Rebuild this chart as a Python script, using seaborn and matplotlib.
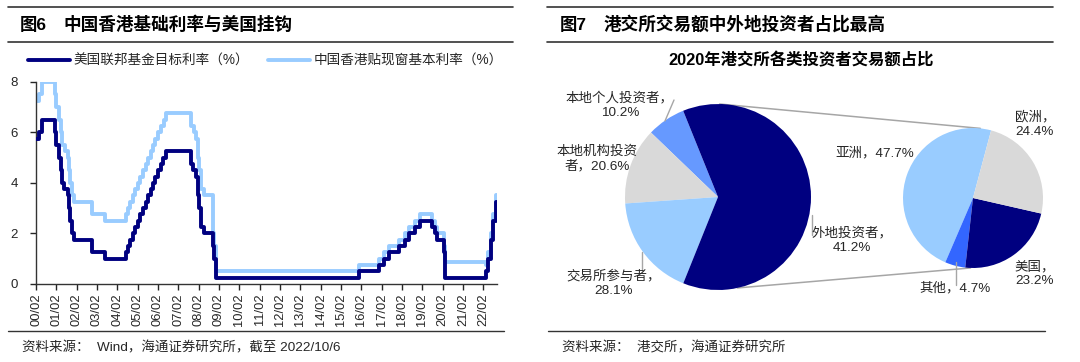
import pandas as pd
import matplotlib
matplotlib.use("Agg")
import matplotlib.pyplot as plt
import matplotlib.dates as mdates
from matplotlib.lines import Line2D
from matplotlib.patches import ConnectionPatch
import numpy as np
import seaborn as sns

# ---------------- DATA ----------------
# change points of the two policy rates (step series)
us_dates = ["2000-02-02", "2000-03-21", "2000-05-16", "2001-01-03", "2001-01-31", "2001-03-20",
            "2001-04-18", "2001-05-15", "2001-06-27", "2001-08-21", "2001-09-17", "2001-10-02",
            "2001-11-06", "2001-12-11", "2002-11-06", "2003-06-25", "2004-06-30", "2004-08-10",
            "2004-09-21", "2004-11-10", "2004-12-14", "2005-02-02", "2005-03-22", "2005-05-03",
            "2005-06-30", "2005-08-09", "2005-09-20", "2005-11-01", "2005-12-13", "2006-01-31",
            "2006-03-28", "2006-05-10", "2006-06-29", "2007-09-18", "2007-10-31", "2007-12-11",
            "2008-01-22", "2008-01-30", "2008-03-18", "2008-04-30", "2008-10-08", "2008-10-29",
            "2008-12-16", "2015-12-16", "2016-12-14", "2017-03-15", "2017-06-14", "2017-12-13",
            "2018-03-21", "2018-06-13", "2018-09-26", "2018-12-19", "2019-07-31", "2019-09-18",
            "2019-10-30", "2020-03-03", "2020-03-15", "2022-03-16", "2022-05-04", "2022-06-15",
            "2022-07-27", "2022-09-21", "2022-10-06"]
us_rates = [5.75, 6.0, 6.5, 6.0, 5.5, 5.0,
            4.5, 4.0, 3.75, 3.5, 3.0, 2.5,
            2.0, 1.75, 1.25, 1.0, 1.25, 1.5,
            1.75, 2.0, 2.25, 2.5, 2.75, 3.0,
            3.25, 3.5, 3.75, 4.0, 4.25, 4.5,
            4.75, 5.0, 5.25, 4.75, 4.5, 4.25,
            3.5, 3.0, 2.25, 2.0, 1.5, 1.0,
            0.25, 0.5, 0.75, 1.0, 1.25, 1.5,
            1.75, 2.0, 2.25, 2.5, 2.25, 2.0,
            1.75, 1.25, 0.25, 0.5, 1.0, 1.75,
            2.5, 3.25, 3.25]

hk_dates = ["2000-02-02", "2000-03-22", "2000-05-17", "2001-01-04", "2001-02-01", "2001-03-21",
            "2001-04-19", "2001-05-16", "2001-06-28", "2001-08-22", "2001-09-18", "2001-10-03",
            "2001-11-07", "2001-12-12", "2002-11-07", "2003-06-26", "2004-07-01", "2004-08-11",
            "2004-09-22", "2004-11-11", "2004-12-15", "2005-02-03", "2005-03-23", "2005-05-04",
            "2005-07-01", "2005-08-10", "2005-09-21", "2005-11-02", "2005-12-14", "2006-02-01",
            "2006-03-29", "2006-05-11", "2006-06-30", "2007-09-19", "2007-11-01", "2007-12-12",
            "2008-01-23", "2008-01-31", "2008-03-19", "2008-05-01", "2008-10-09", "2008-10-30",
            "2008-12-17", "2015-12-17", "2016-12-15", "2017-03-16", "2017-06-15", "2017-12-14",
            "2018-03-22", "2018-06-14", "2018-09-27", "2018-12-20", "2019-08-01", "2019-09-19",
            "2019-10-31", "2020-03-04", "2020-03-16", "2022-03-17", "2022-05-05", "2022-06-16",
            "2022-07-28", "2022-09-22", "2022-10-06"]
hk_rates = [7.25, 7.5, 8.0, 7.5, 7.0, 6.5,
            6.0, 5.5, 5.25, 5.0, 4.5, 4.0,
            3.5, 3.25, 2.75, 2.5, 2.75, 3.0,
            3.25, 3.5, 3.75, 4.0, 4.25, 4.5,
            4.75, 5.0, 5.25, 5.5, 5.75, 6.0,
            6.25, 6.5, 6.75, 6.25, 6.0, 5.75,
            5.0, 4.5, 3.75, 3.5, 2.0, 1.5,
            0.5, 0.75, 1.0, 1.25, 1.5, 1.75,
            2.0, 2.25, 2.5, 2.75, 2.5, 2.25,
            2.0, 1.5, 0.86, 0.75, 1.25, 2.0,
            2.75, 3.5, 3.5]

us_name = "美国联邦基金目标利率（%）"
hk_name = "中国香港贴现窗基本利率（%）"

main_cats = ["本地个人投资者", "本地机构投资者", "交易所参与者", "外地投资者"]
main_shares = [6.7, 13.3, 17.8, 62.2]
main_labels = ["10.2%", "20.6%", "28.1%", "41.2%"]
sub_cats = ["亚洲", "其他", "美国", "欧洲"]
sub_shares = [47.7, 4.7, 23.2, 24.4]

NAVY = "#000080"
LIGHT = "#99CCFF"
GREY = "#D9D9D9"
BLUE = "#6699FF"
BLUE2 = "#3366FF"
TXT = "#262626"

sns.set_theme(style="white")
plt.rcParams["font.family"] = ["Liberation Sans", "Noto Sans CJK SC"]

W, H = 1080, 362
fig = plt.figure(figsize=(W / 100, H / 100), dpi=100)


def fx(x):
    return x / W


def fy(y):
    return 1 - y / H


def hline(x0, x1, y, lw=1.2):
    fig.add_artist(Line2D([fx(x0), fx(x1)], [fy(y), fy(y)], color="#333333", lw=lw))


# ---------------- FRAMES / TITLES ----------------
for x0, x1 in [(8, 513), (547, 1053)]:
    hline(x0, x1, 7)
    hline(x0, x1, 42)
hline(8, 504, 331, lw=1.0)
hline(548, 1045, 331, lw=1.0)

fig.text(fx(20), fy(25), "图6", fontsize=12.5, fontweight="bold", va="center", color="black")
fig.text(fx(63), fy(25), "中国香港基础利率与美国挂钩", fontsize=12.7, fontweight="bold",
         va="center", color="black")
fig.text(fx(560), fy(25), "图7", fontsize=12.5, fontweight="bold", va="center", color="black")
fig.text(fx(604), fy(25), "港交所交易额中外地投资者占比最高", fontsize=12.7, fontweight="bold",
         va="center", color="black")

fig.text(fx(22), fy(348), "资料来源：  Wind，海通证券研究所，截至 2022/10/6", fontsize=9.7,
         va="center", color=TXT)
fig.text(fx(562), fy(348), "资料来源：  港交所，海通证券研究所", fontsize=9.7,
         va="center", color=TXT)

# ---------------- LEFT: RATE LINES ----------------
df_us = pd.DataFrame({"date": pd.to_datetime(us_dates), "rate": us_rates})
df_hk = pd.DataFrame({"date": pd.to_datetime(hk_dates), "rate": hk_rates})

ax = fig.add_axes([fx(36), fy(284), fx(497) - fx(36), fy(81.7) - fy(284)])
sns.lineplot(data=df_hk, x="date", y="rate", ax=ax, color=LIGHT, lw=2.8,
             drawstyle="steps-post", estimator=None, sort=False, label=hk_name, zorder=2)
sns.lineplot(data=df_us, x="date", y="rate", ax=ax, color=NAVY, lw=2.8,
             drawstyle="steps-post", estimator=None, sort=False, label=us_name, zorder=3)

ax.set_xlim(pd.Timestamp("2000-02-01"), pd.Timestamp("2022-10-06"))
ax.set_ylim(0, 8)
ax.set_yticks([0, 2, 4, 6, 8])
xt = pd.date_range("2000-02-01", "2022-02-01", freq="12MS")
ax.set_xticks(xt)
ax.xaxis.set_major_formatter(mdates.DateFormatter("%y/%m"))
ax.tick_params(axis="x", rotation=90, labelsize=9.3, length=4, width=1, direction="out",
               pad=3, bottom=True, colors=TXT)
ax.tick_params(axis="y", labelsize=9.5, length=4, width=1, direction="out", pad=9,
               left=True, colors=TXT)
ax.set_xlabel("")
ax.set_ylabel("")
for s in ["top", "right"]:
    ax.spines[s].set_visible(False)
for s in ["left", "bottom"]:
    ax.spines[s].set_color("#333333")
    ax.spines[s].set_linewidth(1)

h, l = ax.get_legend_handles_labels()
ax.legend(h[::-1], l[::-1], ncol=2, loc="center left", frameon=False,
          bbox_to_anchor=(fx(28), fy(61)), bbox_transform=fig.transFigure,
          borderaxespad=0, borderpad=0, handlelength=3.1, handletextpad=0.25,
          columnspacing=1.4, fontsize=9.8, labelcolor=TXT)

# ---------------- RIGHT: PIE OF PIE ----------------
fig.text(fx(801), fy(60), "2020年港交所各类投资者交易额占比", fontsize=11.8, fontweight="bold",
         ha="center", va="center", color="black")

r1, c1 = 93, (718, 197)
ax1 = fig.add_axes([fx(c1[0] - r1), fy(c1[1] + r1), 2 * r1 / W, 2 * r1 / H])
ax1.pie(main_shares, colors=[BLUE, GREY, LIGHT, NAVY], startangle=112, counterclock=True,
        wedgeprops=dict(linewidth=0))
ax1.set_xlim(-1, 1)
ax1.set_ylim(-1, 1)
ax1.set_aspect("auto")
ax1.axis("off")

r2, c2 = 70, (973, 198)
ax2 = fig.add_axes([fx(c2[0] - r2), fy(c2[1] + r2), 2 * r2 / W, 2 * r2 / H])
ax2.pie(sub_shares, colors=[LIGHT, BLUE2, NAVY, GREY], startangle=75, counterclock=True,
        wedgeprops=dict(linewidth=0))
ax2.set_xlim(-1, 1)
ax2.set_ylim(-1, 1)
ax2.set_aspect("auto")
ax2.axis("off")

# connector lines between the two pies
for a1, a2 in [(89, 84), (-78, -92)]:
    p1 = (np.cos(np.radians(a1)), np.sin(np.radians(a1)))
    p2 = (np.cos(np.radians(a2)), np.sin(np.radians(a2)))
    con = ConnectionPatch(xyA=p1, coordsA=ax1.transData, xyB=p2, coordsB=ax2.transData,
                          color="#A6A6A6", lw=1.1, zorder=0)
    fig.add_artist(con)

# leader lines
for (x0, y0), (x1, y1) in [((674, 100), (665, 121)), ((642, 252), (642, 270)),
                           ((812, 215), (812, 235)), ((956, 262), (956, 285))]:
    fig.add_artist(Line2D([fx(x0), fx(x1)], [fy(y0), fy(y1)], color="#A6A6A6", lw=1))

lab = dict(fontsize=9.7, color=TXT, ha="center", va="center", linespacing=1.25)
fig.text(fx(620), fy(105), main_cats[0] + "，\n" + main_labels[0], **lab)
fig.text(fx(597), fy(159), "本地机构投资\n者，" + main_labels[1], **lab)
fig.text(fx(614), fy(283), main_cats[2] + "，\n" + main_labels[2], **lab)
fig.text(fx(852), fy(240), main_cats[3] + "，\n" + main_labels[3], **lab)

fig.text(fx(875), fy(153), f"{sub_cats[0]}，{sub_shares[0]}%", **lab)
fig.text(fx(955), fy(288), f"{sub_cats[1]}，{sub_shares[1]}%", **lab)
fig.text(fx(1035), fy(274), f"{sub_cats[2]}，\n{sub_shares[2]}%", **lab)
fig.text(fx(1035), fy(124), f"{sub_cats[3]}，\n{sub_shares[3]}%", **lab)

fig.savefig("out.png", dpi=100)
